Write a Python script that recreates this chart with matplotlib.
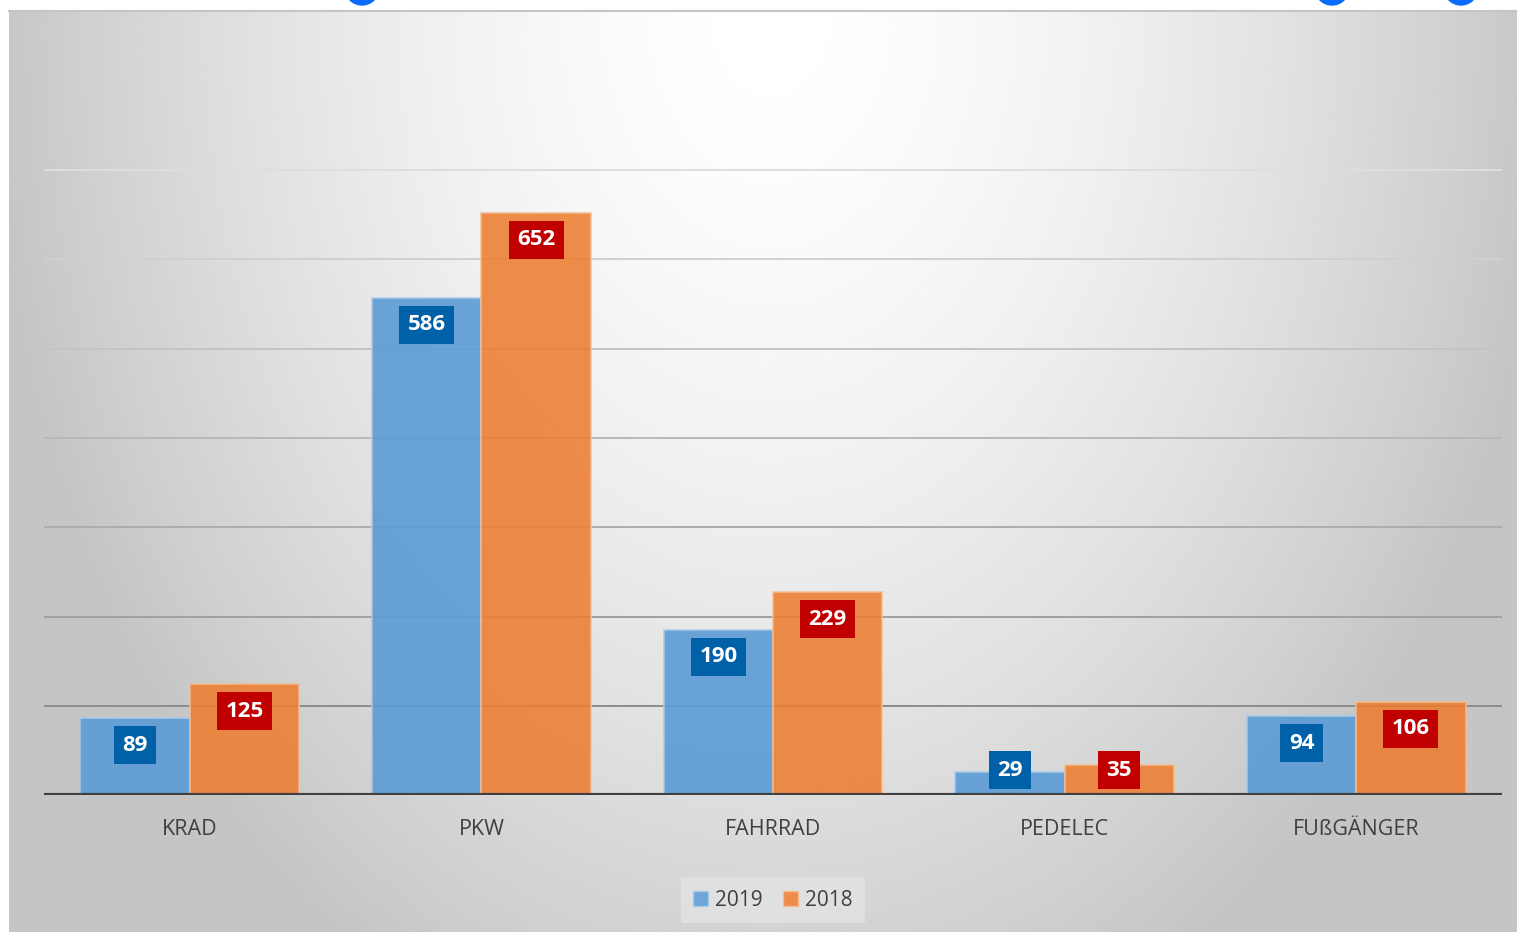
import numpy as np
import matplotlib.pyplot as plt
from matplotlib.patches import Patch, Circle

categories = ["KRAD", "PKW", "FAHRRAD", "PEDELEC", "FUßGÄNGER"]
series_names = ["2019", "2018"]
# bar heights as drawn in the picture
values_2019 = [86, 557, 185, 26, 88]
values_2018 = [124, 652, 227, 34, 104]
# data labels as printed on the bars
labels_2019 = ["89", "586", "190", "29", "94"]
labels_2018 = ["125", "652", "229", "35", "106"]

W, H = 1517, 932
fig = plt.figure(figsize=(W / 100, H / 100), dpi=100)
fig.patch.set_facecolor("white")

# background gradient panel
bg = fig.add_axes([9 / W, 0, 1 - 9 / W, (H - 10) / H])
xx, yy = np.meshgrid(np.linspace(9, W, 500), np.linspace(10, H, 400))
dist = np.sqrt(((xx - 770) / 800) ** 2 + ((yy - 10) / 1130) ** 2)
shade = np.clip(255 - 60 * dist ** 1.6, 197, 255) / 255
bg.imshow(shade, cmap="gray", vmin=0, vmax=1, aspect="auto", extent=[0, 1, 0, 1],
          origin="upper", interpolation="bilinear")
bg.set_xlim(0, 1)
bg.set_ylim(0, 1)
bg.axis("off")

# border line at top of panel and blue circle fragments
fig.add_artist(plt.Line2D([9 / W, 1], [1 - 10.5 / H, 1 - 10.5 / H], color="#c4c4c4", lw=1.5))
over = fig.add_axes([0, 0, 1, 1])
over.set_xlim(0, W)
over.set_ylim(H, 0)
over.axis("off")
for cx in [362, 1332, 1461]:
    over.add_patch(Circle((cx, -12), 17, color="#0a6cff", clip_on=False))

font = "Open Sans"
ax = fig.add_axes([44 / W, 1 - 795 / H, (1502 - 44) / W, 714 / H])
ax.patch.set_alpha(0)
ax.set_ylim(0, 800)
ax.set_xlim(-0.5, len(categories) - 0.5)

grid_colors = ["#8c8c8c", "#a0a0a0", "#adadad", "#b8b8b8", "#c4c4c4", "#d0d0d0", "#dedede"]
for i, gv in enumerate(range(100, 800, 100)):
    ax.axhline(gv, color=grid_colors[i], lw=1.4, zorder=1)

x = np.arange(len(categories))
bw = 0.375
ax.bar(x - bw / 2, values_2019, bw, color="#5b9bd5", alpha=0.9,
       edgecolor="#a9cbea", linewidth=1.2, zorder=2)
ax.bar(x + bw / 2, values_2018, bw, color="#ed7d31", alpha=0.88,
       edgecolor="#f6bc94", linewidth=1.2, zorder=2)

for xs, vals, labs, box in [(x - bw / 2, values_2019, labels_2019, "#0060a8"),
                            (x + bw / 2, values_2018, labels_2018, "#c00000")]:
    for xi, v, lab in zip(xs, vals, labs):
        ax.text(xi, max(v - 30, 28), lab, ha="center", va="center", color="white",
                fontsize=16, fontweight="bold", family=font, zorder=5,
                bbox=dict(boxstyle="square,pad=0.38", fc=box, ec="none"))

ax.axhline(0, color="#404040", lw=3.0, zorder=4)
for s in ax.spines.values():
    s.set_visible(False)
ax.set_yticks([])
ax.set_xticks(x)
ax.set_xticklabels(categories, fontsize=15.5, color="#404040", family=font)
ax.tick_params(axis="x", length=0, pad=17)

handles = [Patch(facecolor="#6fa5d7", edgecolor="#a9cbea"), Patch(facecolor="#ee8c4c", edgecolor="#f6bc94")]
leg = fig.legend(handles, series_names, loc="center", bbox_to_anchor=(773 / W, 1 - 900 / H),
                 ncol=2, frameon=True, fancybox=False, handlelength=0.7, handleheight=0.7,
                 handletextpad=0.35, columnspacing=1.0, borderpad=0.6,
                 prop={"family": font, "size": 15})
leg.get_frame().set_facecolor("#e3e3e3")
leg.get_frame().set_edgecolor("none")
for t in leg.get_texts():
    t.set_color("#404040")

fig.savefig("out.png", dpi=100)
